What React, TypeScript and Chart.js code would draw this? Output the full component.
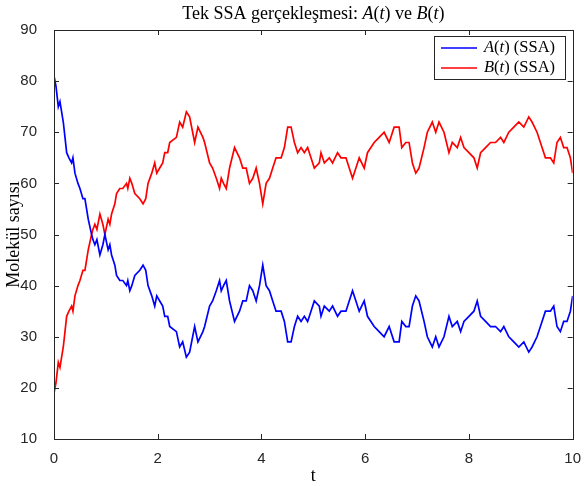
import React, { useEffect, useRef } from "react";
import { Chart, registerables } from "chart.js";

Chart.register(...registerables);

const tValues = [
  0.000, 0.038, 0.083, 0.115, 0.179, 0.212, 0.244, 0.288, 0.340, 0.365,
  0.404, 0.462, 0.500, 0.558, 0.596, 0.660, 0.725, 0.750, 0.788, 0.827,
  0.885, 0.942, 0.981, 1.044, 1.077, 1.110, 1.173, 1.206, 1.269, 1.327,
  1.398, 1.423, 1.462, 1.500, 1.558, 1.654, 1.717, 1.769, 1.813, 1.885,
  1.942, 1.981, 2.038, 2.096, 2.135, 2.192, 2.231, 2.360, 2.423, 2.481,
  2.552, 2.615, 2.673, 2.712, 2.775, 2.871, 2.904, 3.000, 3.058, 3.129,
  3.192, 3.225, 3.269, 3.321, 3.385, 3.481, 3.577, 3.640, 3.706, 3.769,
  3.833, 3.898, 3.962, 4.025, 4.090, 4.154, 4.217, 4.281, 4.379, 4.442,
  4.506, 4.571, 4.635, 4.698, 4.763, 4.827, 4.890, 4.955, 5.019, 5.115,
  5.148, 5.212, 5.308, 5.371, 5.467, 5.533, 5.629, 5.692, 5.756, 5.821,
  5.885, 5.981, 6.044, 6.110, 6.173, 6.269, 6.365, 6.462, 6.558, 6.654,
  6.706, 6.783, 6.846, 6.910, 6.975, 7.038, 7.135, 7.198, 7.294, 7.360,
  7.423, 7.519, 7.615, 7.679, 7.775, 7.840, 7.904, 8.000, 8.096, 8.160,
  8.225, 8.321, 8.417, 8.513, 8.610, 8.673, 8.769, 8.865, 8.962, 9.058,
  9.154, 9.217, 9.313, 9.410, 9.475, 9.571, 9.635, 9.698, 9.763, 9.827,
  9.891, 9.956, 10.000,
];

const aValues = [
  81, 79, 75, 76, 72, 69, 66, 65, 64, 65,
  62, 60, 59, 57, 57, 53, 50, 49, 48, 49,
  46, 48, 50, 47, 48, 46, 44, 42, 41, 41,
  40, 41, 39, 40, 42, 43, 44, 43, 40, 38,
  36, 38, 37, 36, 34, 34, 32, 31, 28, 29,
  26, 27, 30, 32, 29, 31, 32, 36, 37, 39,
  41, 39, 40, 41, 37, 33, 35, 37, 37, 40,
  39, 37, 40, 44, 40, 39, 37, 35, 35, 33,
  29, 29, 32, 34, 33, 34, 33, 35, 37, 36,
  34, 36, 35, 36, 34, 35, 35, 37, 39, 37,
  35, 37, 34, 33, 32, 31, 30, 32, 29, 29,
  33, 32, 32, 36, 38, 37, 33, 30, 28, 30,
  28, 30, 34, 32, 33, 31, 33, 34, 35, 37,
  34, 33, 32, 32, 31, 32, 30, 29, 28, 29,
  27, 28, 30, 33, 35, 35, 36, 32, 31, 33,
  33, 35, 38,
];

const bValues = [
  19, 21, 25, 24, 28, 31, 34, 35, 36, 35,
  38, 40, 41, 43, 43, 47, 50, 51, 52, 51,
  54, 52, 50, 53, 52, 54, 56, 58, 59, 59,
  60, 59, 61, 60, 58, 57, 56, 57, 60, 62,
  64, 62, 63, 64, 66, 66, 68, 69, 72, 71,
  74, 73, 70, 68, 71, 69, 68, 64, 63, 61,
  59, 61, 60, 59, 63, 67, 65, 63, 63, 60,
  61, 63, 60, 56, 60, 61, 63, 65, 65, 67,
  71, 71, 68, 66, 67, 66, 67, 65, 63, 64,
  66, 64, 65, 64, 66, 65, 65, 63, 61, 63,
  65, 63, 66, 67, 68, 69, 70, 68, 71, 71,
  67, 68, 68, 64, 62, 63, 67, 70, 72, 70,
  72, 70, 66, 68, 67, 69, 67, 66, 65, 63,
  66, 67, 68, 68, 69, 68, 70, 71, 72, 71,
  73, 72, 70, 67, 65, 65, 64, 68, 69, 67,
  67, 65, 62,
];

const xTicks = [0, 2, 4, 6, 8, 10];
const yTicks = [10, 20, 30, 40, 50, 60, 70, 80, 90];

const titleText = "Tek SSA gerçekleşmesi: ";
const yAxisTitle = "Molekül sayısı";
const xAxisTitle = "t";
const seriesNames = ["A", "B"];
const seriesColors = ["#0000ff", "#ff0000"];

const SERIF = "'Liberation Serif', 'DejaVu Serif', serif";
const AXIS = "#262626";

type Seg = { t: string; i: boolean };

function drawSegs(ctx: CanvasRenderingContext2D, segs: Seg[], x: number, y: number, size: number, align: "center" | "left") {
  const fontFor = (i: boolean) => `${i ? "italic " : ""}${size}px ${SERIF}`;
  let total = 0;
  for (const s of segs) {
    ctx.font = fontFor(s.i);
    total += ctx.measureText(s.t).width;
  }
  let cx = align === "center" ? x - total / 2 : x;
  ctx.textAlign = "left";
  for (const s of segs) {
    ctx.font = fontFor(s.i);
    ctx.fillText(s.t, cx, y);
    cx += ctx.measureText(s.t).width;
  }
}

const framePlugin = {
  id: "matlabFrame",
  afterDatasetsDraw(chart: any) {
    const ctx: CanvasRenderingContext2D = chart.ctx;
    const { left, right, top, bottom } = chart.chartArea;
    const xs = chart.scales.x;
    const ys = chart.scales.y;
    ctx.save();
    ctx.strokeStyle = AXIS;
    ctx.lineWidth = 1;
    ctx.strokeRect(Math.round(left) + 0.5, Math.round(top) + 0.5, Math.round(right - left), Math.round(bottom - top));
    const tl = 5;
    ctx.beginPath();
    for (const v of xTicks) {
      const px = Math.round(xs.getPixelForValue(v)) + 0.5;
      ctx.moveTo(px, bottom);
      ctx.lineTo(px, bottom - tl);
      ctx.moveTo(px, top);
      ctx.lineTo(px, top + tl);
    }
    for (const v of yTicks) {
      const py = Math.round(ys.getPixelForValue(v)) + 0.5;
      ctx.moveTo(left, py);
      ctx.lineTo(left + tl, py);
      ctx.moveTo(right, py);
      ctx.lineTo(right - tl, py);
    }
    ctx.stroke();

    ctx.fillStyle = "#000";
    ctx.textBaseline = "middle";
    drawSegs(
      ctx,
      [
        { t: titleText, i: false },
        { t: "A", i: true }, { t: "(", i: false }, { t: "t", i: true }, { t: ") ve ", i: false },
        { t: "B", i: true }, { t: "(", i: false }, { t: "t", i: true }, { t: ")", i: false },
      ],
      (left + right) / 2,
      14,
      18,
      "center"
    );

    ctx.font = `18px ${SERIF}`;
    ctx.textAlign = "center";
    ctx.fillText(xAxisTitle, (left + right) / 2, 476);
    ctx.save();
    ctx.translate(14, (top + bottom) / 2);
    ctx.rotate(-Math.PI / 2);
    ctx.fillText(yAxisTitle, 0, 0);
    ctx.restore();

    const lx = 434, ly = 36, lw = 131, lh = 43;
    ctx.fillStyle = "#fff";
    ctx.fillRect(lx, ly, lw, lh);
    ctx.strokeStyle = AXIS;
    ctx.lineWidth = 1;
    ctx.strokeRect(lx + 0.5, ly + 0.5, lw, lh);
    seriesNames.forEach((n, k) => {
      const yy = ly + 12 + k * 20;
      ctx.strokeStyle = seriesColors[k];
      ctx.lineWidth = 1.6;
      ctx.beginPath();
      ctx.moveTo(lx + 7, yy);
      ctx.lineTo(lx + 43, yy);
      ctx.stroke();
      ctx.fillStyle = "#000";
      ctx.textBaseline = "middle";
      drawSegs(
        ctx,
        [{ t: n, i: true }, { t: "(", i: false }, { t: "t", i: true }, { t: ") (SSA)", i: false }],
        lx + 50,
        yy,
        16.5,
        "left"
      );
    });
    ctx.restore();
  },
};

export default function App() {
  const ref = useRef<HTMLCanvasElement | null>(null);
  useEffect(() => {
    document.body.style.margin = "0";
    const canvas = ref.current!;
    const mk = (vals: number[]) => tValues.map((t, i) => ({ x: t, y: vals[i] }));
    const chart = new Chart(canvas, {
      type: "line",
      data: {
        datasets: [
          {
            label: "A(t) (SSA)",
            data: mk(aValues),
            borderColor: seriesColors[0],
            borderWidth: 1.7,
            pointRadius: 0,
            tension: 0,
            fill: false,
          },
          {
            label: "B(t) (SSA)",
            data: mk(bValues),
            borderColor: seriesColors[1],
            borderWidth: 1.7,
            pointRadius: 0,
            tension: 0,
            fill: false,
          },
        ],
      },
      options: {
        animation: false,
        responsive: false,
        events: [],
        layout: { padding: { top: 30, right: 10, left: 0, bottom: 0 } },
        plugins: {
          legend: { display: false },
          title: { display: false },
          tooltip: { enabled: false },
        },
        scales: {
          x: {
            type: "linear",
            min: 0,
            max: 10,
            afterFit: (s: any) => { s.height = 47; },
            afterBuildTicks: (s: any) => { s.ticks = xTicks.map((v) => ({ value: v })); },
            grid: { display: false },
            border: { display: false },
            ticks: {
              padding: 3,
              color: AXIS,
              font: { family: "'Liberation Sans', Arial, sans-serif", size: 15 },
              maxRotation: 0,
            },
          },
          y: {
            type: "linear",
            min: 10,
            max: 90,
            afterFit: (s: any) => { s.width = 54; },
            afterBuildTicks: (s: any) => { s.ticks = yTicks.map((v) => ({ value: v })); },
            grid: { display: false },
            border: { display: false },
            ticks: {
              padding: 9,
              color: AXIS,
              font: { family: "'Liberation Sans', Arial, sans-serif", size: 15 },
            },
          },
        },
      },
      plugins: [framePlugin],
    } as any);
    return () => chart.destroy();
  }, []);
  return <canvas ref={ref} width={584} height={486} style={{ display: "block" }} />;
}
